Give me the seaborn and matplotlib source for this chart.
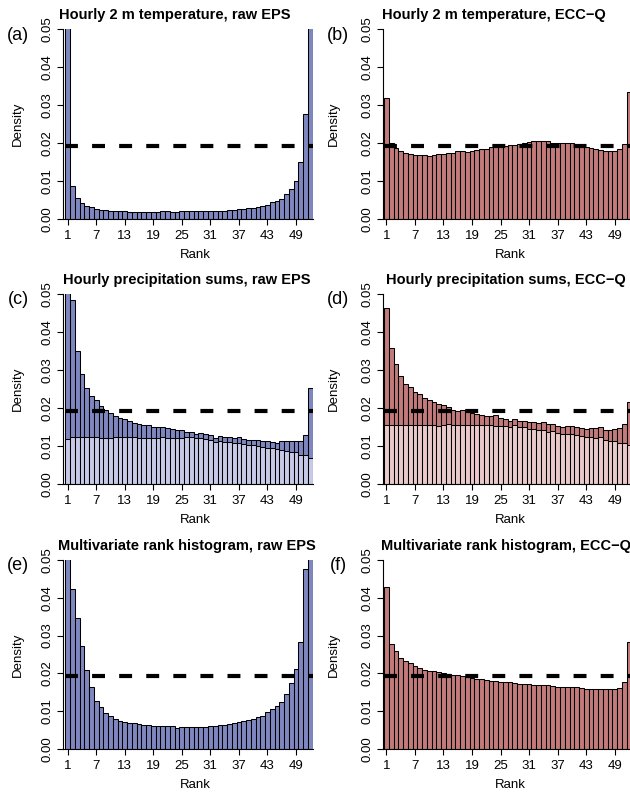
import numpy as np
import pandas as pd
import matplotlib
matplotlib.use("Agg")
import matplotlib.pyplot as plt
import seaborn as sns

# rank histogram densities, 52 ranks (50 members + obs + 1)
ranks = list(range(1, 53))

temp_raw = [0.40, 0.0087, 0.0054, 0.0041, 0.0035, 0.0031, 0.0026, 0.0025, 0.0023, 0.0022,
            0.0021, 0.0021, 0.0020, 0.0019, 0.0019, 0.0019, 0.0019, 0.0019, 0.0019, 0.0019,
            0.0020, 0.0020, 0.0019, 0.0019, 0.0020, 0.0020, 0.0020, 0.0020, 0.0020, 0.0021,
            0.0021, 0.0022, 0.0022, 0.0022, 0.0024, 0.0025, 0.0026, 0.0027, 0.0028, 0.0029,
            0.0031, 0.0033, 0.0037, 0.0044, 0.0048, 0.0053, 0.0066, 0.0080, 0.0101, 0.0149,
            0.0277, 0.41]
temp_ecc = [0.0318, 0.0199, 0.0186, 0.0179, 0.0175, 0.0170, 0.0168, 0.0168, 0.0168, 0.0166,
            0.0169, 0.0171, 0.0171, 0.0173, 0.0174, 0.0178, 0.0178, 0.0177, 0.0179, 0.0181,
            0.0185, 0.0185, 0.0189, 0.0191, 0.0191, 0.0193, 0.0195, 0.0195, 0.0197, 0.0199,
            0.0203, 0.0205, 0.0204, 0.0206, 0.0204, 0.0201, 0.0199, 0.0201, 0.0201, 0.0199,
            0.0196, 0.0193, 0.0190, 0.0186, 0.0184, 0.0181, 0.0179, 0.0179, 0.0179, 0.0184,
            0.0197, 0.0334]
precip_raw = [0.19, 0.0484, 0.0350, 0.0290, 0.0252, 0.0232, 0.0220, 0.0205, 0.0195, 0.0188,
              0.0180, 0.0174, 0.0170, 0.0165, 0.0161, 0.0158, 0.0156, 0.0154, 0.0151, 0.0151,
              0.0150, 0.0148, 0.0144, 0.0143, 0.0141, 0.0137, 0.0136, 0.0132, 0.0134, 0.0132,
              0.0129, 0.0121, 0.0126, 0.0125, 0.0125, 0.0120, 0.0123, 0.0118, 0.0117, 0.0117,
              0.0116, 0.0113, 0.0113, 0.0110, 0.0108, 0.0112, 0.0112, 0.0112, 0.0112, 0.0112,
              0.0128, 0.0253]
precip_raw_part = [0.0119, 0.0125, 0.0125, 0.0124, 0.0123, 0.0123, 0.0125, 0.0122, 0.0122, 0.0122,
                   0.0123, 0.0123, 0.0123, 0.0123, 0.0123, 0.0122, 0.0122, 0.0122, 0.0122, 0.0121,
                   0.0123, 0.0122, 0.0120, 0.0122, 0.0122, 0.0123, 0.0123, 0.0120, 0.0120, 0.0118,
                   0.0115, 0.0110, 0.0113, 0.0111, 0.0110, 0.0107, 0.0108, 0.0104, 0.0103, 0.0102,
                   0.0100, 0.0098, 0.0094, 0.0094, 0.0092, 0.0089, 0.0087, 0.0085, 0.0083, 0.0077,
                   0.0077, 0.0068]
precip_ecc = [0.0462, 0.0358, 0.0316, 0.0284, 0.0264, 0.0254, 0.0241, 0.0236, 0.0226, 0.0222,
              0.0216, 0.0210, 0.0208, 0.0203, 0.0195, 0.0192, 0.0194, 0.0189, 0.0186, 0.0183,
              0.0181, 0.0180, 0.0178, 0.0181, 0.0174, 0.0172, 0.0167, 0.0171, 0.0166, 0.0165,
              0.0163, 0.0163, 0.0161, 0.0163, 0.0157, 0.0158, 0.0153, 0.0151, 0.0152, 0.0152,
              0.0151, 0.0148, 0.0145, 0.0148, 0.0147, 0.0150, 0.0143, 0.0143, 0.0144, 0.0148,
              0.0157, 0.0215]
precip_ecc_part = [0.0155, 0.0156, 0.0156, 0.0155, 0.0155, 0.0155, 0.0154, 0.0155, 0.0154, 0.0154,
                   0.0154, 0.0153, 0.0155, 0.0157, 0.0156, 0.0155, 0.0154, 0.0155, 0.0156, 0.0154,
                   0.0155, 0.0154, 0.0154, 0.0153, 0.0153, 0.0152, 0.0151, 0.0155, 0.0151, 0.0150,
                   0.0145, 0.0145, 0.0142, 0.0143, 0.0138, 0.0139, 0.0135, 0.0132, 0.0132, 0.0132,
                   0.0130, 0.0126, 0.0124, 0.0124, 0.0121, 0.0123, 0.0116, 0.0114, 0.0112, 0.0109,
                   0.0107, 0.0102]
multi_raw = [0.22, 0.0422, 0.0346, 0.0272, 0.0208, 0.0164, 0.0128, 0.0110, 0.0094, 0.0086,
             0.0079, 0.0075, 0.0072, 0.0070, 0.0068, 0.0066, 0.0063, 0.0063, 0.0062, 0.0062,
             0.0060, 0.0060, 0.0060, 0.0056, 0.0058, 0.0058, 0.0058, 0.0058, 0.0058, 0.0058,
             0.0061, 0.0062, 0.0063, 0.0064, 0.0067, 0.0070, 0.0072, 0.0074, 0.0077, 0.0080,
             0.0084, 0.0087, 0.0097, 0.0106, 0.0114, 0.0125, 0.0145, 0.0175, 0.0211, 0.0284,
             0.0476, 0.21]
multi_ecc = [0.0428, 0.0277, 0.0258, 0.0242, 0.0233, 0.0228, 0.0219, 0.0214, 0.0208, 0.0207,
             0.0206, 0.0204, 0.0202, 0.0199, 0.0197, 0.0195, 0.0192, 0.0191, 0.0188, 0.0185,
             0.0185, 0.0182, 0.0181, 0.0179, 0.0178, 0.0178, 0.0176, 0.0175, 0.0171, 0.0171,
             0.0171, 0.0170, 0.0170, 0.0170, 0.0168, 0.0166, 0.0165, 0.0165, 0.0164, 0.0163,
             0.0163, 0.0161, 0.0159, 0.0159, 0.0159, 0.0158, 0.0158, 0.0158, 0.0159, 0.0162,
             0.0177, 0.0283]

titles = ["Hourly 2 m temperature, raw EPS", "Hourly 2 m temperature, ECC\u2212Q",
          "Hourly precipitation sums, raw EPS", "Hourly precipitation sums, ECC\u2212Q",
          "Multivariate rank histogram, raw EPS", "Multivariate rank histogram, ECC\u2212Q"]
letters = ["(a)", "(b)", "(c)", "(d)", "(e)", "(f)"]
main_vals = [temp_raw, temp_ecc, precip_raw, precip_ecc, multi_raw, multi_ecc]
part_vals = [None, None, precip_raw_part, precip_ecc_part, None, None]

BLUE, BLUE_LIGHT = "#7f87c0", "#c6cae7"
RED, RED_LIGHT = "#c27a7a", "#e9c9c9"

sns.set_style("ticks")
plt.rcParams["font.family"] = ["Liberation Sans", "DejaVu Sans"]
plt.rcParams["text.color"] = "black"
plt.rcParams["axes.labelcolor"] = "black"
plt.rcParams["xtick.color"] = "black"
plt.rcParams["ytick.color"] = "black"

W, H = 630, 793
fig = plt.figure(figsize=(W / 100, H / 100), dpi=100)

def ftext(x, y, s, **kw):
    fig.text(x / W, 1 - y / H, s, **kw)

PX = 4.757  # pixels per rank
# axis x, first bar x, right edge, "Density" x, "Rank" x, title x
col_px = [(63.3, 65.3, 313.0, 18, 195, 187), (383.3, 384.0, 630.0, 334, 510, 506)]
row_px = [(29, 219), (294, 484), (560, 749)]
title_dx = [-12, 0, 0]

for i in range(6):
    r, c = divmod(i, 2)
    axl, bar1, axr, dens_x, xlab_x, tit_x = col_px[c]
    top, bot = row_px[r]
    ax = fig.add_axes([axl / W, (H - bot) / H, (axr - axl) / W, (bot - top) / H])

    dark, light = (BLUE, BLUE_LIGHT) if c == 0 else (RED, RED_LIGHT)
    df = pd.DataFrame({"rank": ranks, "density": main_vals[i]})
    sns.barplot(data=df, x="rank", y="density", native_scale=True, width=1,
                color=dark, saturation=1, edgecolor="black", linewidth=0.75,
                errorbar=None, ax=ax)
    if part_vals[i] is not None:
        dfp = pd.DataFrame({"rank": ranks, "density": part_vals[i]})
        sns.barplot(data=dfp, x="rank", y="density", native_scale=True, width=1,
                    color=light, saturation=1, edgecolor="black", linewidth=0.75,
                    errorbar=None, ax=ax)

    ax.hlines(1 / 52, 0.5, 52.6, colors="black", linewidth=3.0,
              linestyles=(0, (3.1, 3.4)), zorder=5)

    xl = 0.5 - (bar1 - axl) / PX
    ax.set_xlim(xl, xl + (axr - axl) / PX)
    ax.set_ylim(0, 0.05)
    ax.set_xticks(list(range(1, 50, 6)))
    ax.set_xticklabels([str(k) for k in range(1, 50, 6)])
    yt = [0, 0.01, 0.02, 0.03, 0.04, 0.05]
    ax.set_yticks(yt)
    ax.set_yticklabels(["%.2f" % v for v in yt])
    ax.tick_params(axis="both", labelsize=9.5, length=4, width=0.8,
                   color="black", labelcolor="black")
    ax.tick_params(axis="x", pad=4)
    ax.tick_params(axis="y", pad=3)
    for lab in ax.get_yticklabels():
        lab.set_rotation(90)
        lab.set_va("center")
    ax.set_xlabel("")
    ax.set_ylabel("")
    sns.despine(ax=ax)
    for s in ["left", "bottom"]:
        ax.spines[s].set_linewidth(0.8)
        ax.spines[s].set_color("black")

    ftext(tit_x + title_dx[r], top - 14, titles[i], ha="center", va="center",
          fontsize=10.5, fontweight="bold", color="black")
    ftext(axl - 45, top + 6, letters[i], ha="center", va="center", fontsize=13,
          color="black")
    ftext(dens_x, (top + bot) / 2, "Density", ha="center", va="center",
          rotation=90, fontsize=9.5, color="black")
    ftext(xlab_x, bot + 36, "Rank", ha="center", va="center", fontsize=9.5,
          color="black")

fig.savefig("out.png", dpi=100)
